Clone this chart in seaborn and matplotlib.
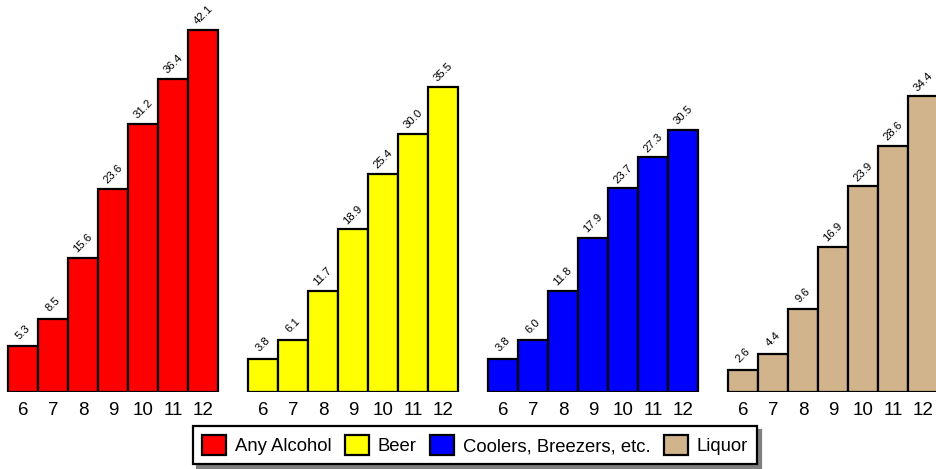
import pandas as pd
import matplotlib
matplotlib.use("Agg")
import matplotlib.pyplot as plt
from matplotlib.patches import Patch
import seaborn as sns

grades = [6, 7, 8, 9, 10, 11, 12]
categories = ["Any Alcohol", "Beer", "Coolers, Breezers, etc.", "Liquor"]
any_alcohol = [5.3, 8.5, 15.6, 23.6, 31.2, 36.4, 42.1]
beer = [3.8, 6.1, 11.7, 18.9, 25.4, 30.0, 35.5]
coolers = [3.8, 6.0, 11.8, 17.9, 23.7, 27.3, 30.5]
liquor = [2.6, 4.4, 9.6, 16.9, 23.9, 28.6, 34.4]
colors = ["#FF0000", "#FFFF00", "#0000FF", "#D2B48C"]

sns.set_style("white")
plt.rcParams['font.family'] = ['Liberation Sans', 'DejaVu Sans']
plt.rcParams['text.color'] = 'black'
plt.rcParams['xtick.color'] = 'black'

# one row per bar; groups separated by one empty slot
rows = []
for g, (cat, vals) in enumerate(zip(categories, [any_alcohol, beer, coolers, liquor])):
    for i, (grade, v) in enumerate(zip(grades, vals)):
        rows.append({"pos": g * 8 + i, "grade": grade, "value": v, "category": cat})
df = pd.DataFrame(rows)

fig = plt.figure(figsize=(9.36, 4.69), dpi=100)
ax = fig.add_axes([0, 77 / 469, 1, 392 / 469])

sns.barplot(data=df, x="pos", y="value", hue="category", palette=dict(zip(categories, colors)),
            native_scale=True, dodge=False, width=1, errorbar=None, saturation=1,
            edgecolor="black", linewidth=1.6, legend=False, ax=ax)

for _, r in df.iterrows():
    ax.annotate(f"{r['value']:.1f}", (r["pos"], r["value"]), xytext=(0, 10.5),
                textcoords="offset points", rotation=45, ha="center", va="center",
                fontsize=8.2, color="black")

ax.set_xlim(-23 / 30, 936 / 30 - 23 / 30)
ax.set_ylim(0, 392 / 8.6)
ax.set_xticks(df["pos"])
ax.set_xticklabels(df["grade"], fontsize=13.5)
ax.tick_params(axis="x", length=0, pad=7, colors="black")
ax.set_yticks([])
ax.set_xlabel("")
ax.set_ylabel("")
for s in ax.spines.values():
    s.set_visible(False)

handles = [Patch(facecolor=c, edgecolor="black", linewidth=1.6) for c in colors]
leg = fig.legend(handles, categories, loc="center", bbox_to_anchor=(475 / 936, 1 - 445 / 469),
                 ncol=4, fontsize=13.3, frameon=True, fancybox=False,
                 shadow={"ox": 3, "oy": -3, "color": "0.5", "alpha": 1},
                 handlelength=1.3, handleheight=1.3, handletextpad=0.5,
                 columnspacing=0.7, borderpad=0.5, borderaxespad=0)
leg.get_frame().set_edgecolor("black")
leg.get_frame().set_linewidth(1.6)

fig.savefig("out.png", dpi=100)
